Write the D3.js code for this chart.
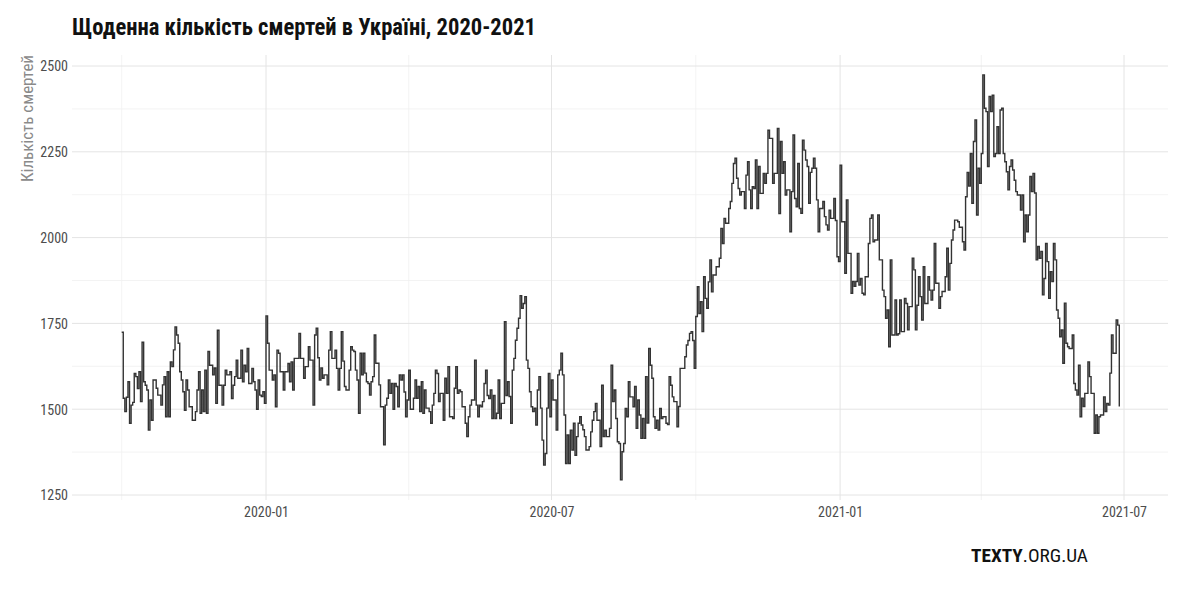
<!DOCTYPE html>
<html><head><meta charset="utf-8">
<script src="https://cdn.jsdelivr.net/npm/d3@7"></script>
<style>
body{margin:0;background:#fff;}
svg{display:block;}
</style></head>
<body>
<svg id="chart" width="1187" height="597"></svg>
<script>
// ---- data ----
const startDate = "2019-10-01";
const deaths = [
1724,1532,1493,1535,1580,1459,1512,1520,1604,1595,
1560,1609,1522,1695,1580,1570,1556,1439,1527,1468,
1585,1585,1561,1541,1541,1512,1571,1595,1478,1609,
1478,1638,1624,1673,1740,1716,1692,1609,1585,1551,
1497,1585,1556,1507,1507,1468,1468,1493,1556,1609,
1488,1556,1493,1614,1488,1668,1628,1628,1600,1620,
1517,1730,1570,1570,1512,1570,1614,1600,1600,1609,
1531,1570,1595,1643,1590,1590,1672,1580,1628,1609,
1677,1575,1575,1619,1580,1556,1500,1585,1541,1537,
1551,1517,
1772,1692,1614,1614,1585,1600,1507,1672,1663,1609,
1609,1556,1609,1609,1633,1580,1638,1556,1648,1648,
1648,1721,1648,1648,1590,1624,1624,1682,
1643,1643,1512,1716,1736,1650,1585,1620,1590,1600,
1600,1571,1672,1726,1648,1648,1672,1619,1556,1619,
1726,1640,1566,1556,1556,1614,1682,1672,1668,1614,
1585,1488,1663,1600,1663,1605,1580,1575,1541,1580,
1595,1716,1634,1634,1571,1507,1507,1396,1512,1532,
1585,1546,1575,1500,1575,1566,1507,1600,1585,1600,
1550,1478,
1527,1614,1500,1500,1532,1585,1532,1566,1493,1580,
1488,1556,1503,1503,1493,1459,1512,1546,1614,1604,
1522,1546,1546,1468,1590,1546,1624,1478,1478,1473,
1561,1624,1546,1556,1551,1507,1507,1459,1420,1478,
1512,1527,1527,1643,1512,1478,1512,1507,1522,1575,
1614,1540,1531,1556,1473,1540,1473,1488,1585,1473,
1517,1517,1755,1540,1580,1537,1459,1614,1648,1701,
1736,1765,1831,1794,1808,1828,1643,1619,1551,1507,
1493,1503,1454,1556,1595,1503,1410,1337,1371,1503,
1604,1478,1585,1527,1527,1439,1600,1614,1663,1600,
1483,1342,1425,1342,1439,1381,1459,1366,1420,1459,
1478,1454,1440,1420,1381,1381,1391,1434,1468,1493,
1517,
1468,1468,1391,1570,1420,1439,1420,1420,1444,1628,
1522,1556,1473,1405,1400,1294,1376,1400,1502,1478,
1580,1536,1536,1507,1566,1444,1527,1483,1415,1473,
1415,1595,1460,1677,1628,1590,1478,1444,1468,1439,
1502,1473,1478,1478,1459,1455,1595,1570,1536,1522,
1522,1449,1508,1619,1619,1619,1653,1687,1700,1721,
1726,1700,1619,1770,1857,1779,1813,1726,1886,1823,
1794,1871,1935,1842,1891,1891,1915,1915,1940,2027,
1983,2056,2042,2042,2085,2105,2158,2216,2231,2173,
2143,2124,2134,2134,2085,2182,2221,2139,2085,2148,
2143,2226,2085,2207,2129,2129,2187,2158,2187,2313,
2289,2289,2158,2187,2187,2318,2070,2280,2187,2221,
2124,
2139,2139,2017,2134,2299,2114,2090,2216,2085,2071,
2284,2255,2226,2207,2100,2190,2202,2231,2202,2110,
2017,2085,2085,2105,2061,2037,2022,2080,2056,2056,
2114,2050,1944,1930,2211,2046,2046,1896,2110,1954,
1954,1838,1872,1858,1872,1954,1862,1881,1838,1833,
1886,1886,1983,2056,2066,1988,1993,1993,2066,1935,
1935,1847,1828,1765,1789,1682,1935,1716,1716,1818,
1716,1720,1818,1726,1726,1823,1808,1731,1799,1799,
1940,1906,1731,1803,1886,1828,1760,1915,1808,1808,
1886,1847,1818,1847,1983,1867,1867,1794,1828,1843,
1843,1886,1969,1847,1925,1993,2022,2051,2051,2046,
2030,2030,1988,1964,2119,2190,2150,2245,2100,2280,
2343,
2066,2202,2158,2245,2474,2377,2367,2207,2411,2367,
2415,2236,2245,2323,2245,2372,2377,2245,2221,2192,
2139,2207,2226,2197,2167,2134,2124,2124,2080,2124,
1988,2066,2017,2066,2178,2134,2187,2130,1935,1974,
1940,1960,
1833,1881,1983,1930,1823,1901,1872,1983,1935,1789,
1765,1711,1731,1634,1809,1692,1682,1677,1677,1716,
1575,1556,1541,1628,1478,1532,1508,1546,1546,1638,
1595,1546,1546,1430,1483,1430,1478,1483,1483,1536,
1493,1517,1512,1605,1716,1663,1663,1760,1745,1508
];
const yTicks = [1250, 1500, 1750, 2000, 2250, 2500];
const yMinor = [1375, 1625, 1875, 2125, 2375];
const xTickLabels = ["2020-01", "2020-07", "2021-01", "2021-07"];
const xMinorLabels = ["2019-10", "2020-04", "2020-10", "2021-04"];
const titleText = "Щоденна кількість смертей в Україні, 2020-2021";
const yTitleText = "Кількість смертей";

// ---- layout ----
const svg = d3.select("#chart");
const panel = {left: 72, right: 1168, top: 55, bottom: 500};
const parse = d3.utcParse("%Y-%m-%d");
const parseM = d3.utcParse("%Y-%m");
const t0 = parse(startDate);
const data = deaths.map((v, i) => ({date: d3.utcDay.offset(t0, i), value: v}));

const x = d3.scaleUtc()
  .domain([parseM("2020-01"), parseM("2021-07")])
  .range([266, 1124]);
const y = d3.scaleLinear().domain([1250, 2500]).range([495, 66]);

const font = "'Liberation Sans Narrow','Roboto Condensed','Arial Narrow',Roboto,sans-serif";

// grid
const g = svg.append("g");
g.selectAll(".ymin").data(yMinor).join("line")
  .attr("x1", panel.left).attr("x2", panel.right)
  .attr("y1", d => y(d)).attr("y2", d => y(d))
  .attr("stroke", "#f0f0f0").attr("stroke-width", 0.8);
g.selectAll(".xmin").data(xMinorLabels).join("line")
  .attr("x1", d => x(parseM(d))).attr("x2", d => x(parseM(d)))
  .attr("y1", panel.top).attr("y2", panel.bottom)
  .attr("stroke", "#f0f0f0").attr("stroke-width", 0.8);
g.selectAll(".ymaj").data(yTicks).join("line")
  .attr("x1", panel.left).attr("x2", panel.right)
  .attr("y1", d => y(d)).attr("y2", d => y(d))
  .attr("stroke", "#e4e4e4").attr("stroke-width", 1);
g.selectAll(".xmaj").data(xTickLabels).join("line")
  .attr("x1", d => x(parseM(d))).attr("x2", d => x(parseM(d)))
  .attr("y1", panel.top).attr("y2", panel.bottom)
  .attr("stroke", "#e4e4e4").attr("stroke-width", 1);

// axes labels
const yAxis = d3.axisLeft(y).tickValues(yTicks).tickSize(0).tickPadding(0).tickFormat(d3.format("d"));
const ya = svg.append("g").attr("transform", `translate(${panel.left - 4},0)`).call(yAxis);
ya.select(".domain").remove();
ya.selectAll("text").attr("font-family", font).attr("font-size", 14).attr("fill", "#4d4d4d").attr("dy", "0.35em");

const xAxis = d3.axisBottom(x).tickValues(xTickLabels.map(parseM)).tickSize(0).tickPadding(0).tickFormat(d3.utcFormat("%Y-%m"));
const xa = svg.append("g").attr("transform", `translate(0,${panel.bottom + 4})`).call(xAxis);
xa.select(".domain").remove();
xa.selectAll("text").attr("font-family", font).attr("font-size", 14).attr("fill", "#4d4d4d").attr("dy", "0.95em");

// line
const line = d3.line().x(d => x(d.date)).y(d => y(d.value)).curve(d3.curveStepAfter);
svg.append("path").datum(data)
  .attr("d", line).attr("fill", "none")
  .attr("stroke", "#333333").attr("stroke-width", 1.4).attr("stroke-linejoin", "miter");

// title
svg.append("text").attr("x", 72).attr("y", 35)
  .attr("font-family", font).attr("font-weight", "bold").attr("font-size", 23)
  .attr("fill", "#111").attr("textLength", 464).attr("lengthAdjust", "spacingAndGlyphs")
  .text(titleText);

// y title
svg.append("text").attr("transform", "translate(33,55) rotate(-90)")
  .attr("text-anchor", "end")
  .attr("font-family", font).attr("font-size", 17).attr("fill", "#8a8a8a")
  .attr("textLength", 127).attr("lengthAdjust", "spacingAndGlyphs")
  .text(yTitleText);

// footer
const ft = svg.append("text").attr("x", 971).attr("y", 562)
  .attr("font-family", font).attr("font-size", 18).attr("fill", "#111")
  .attr("textLength", 117).attr("lengthAdjust", "spacingAndGlyphs");
ft.append("tspan").attr("font-weight", "bold").text("TEXTY");
ft.append("tspan").text(".ORG.UA");
</script>
</body></html>
